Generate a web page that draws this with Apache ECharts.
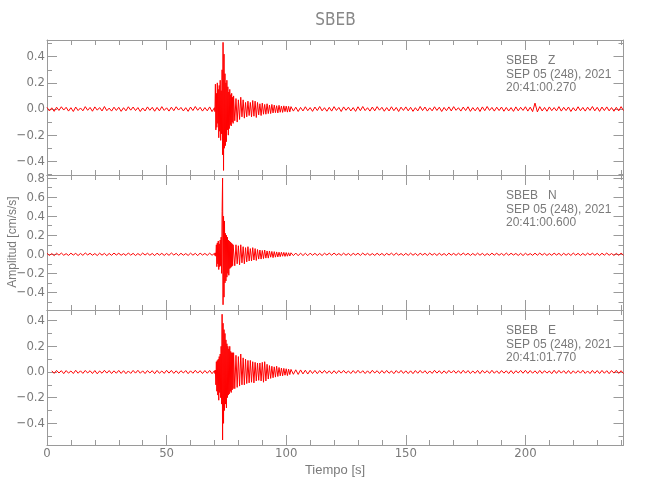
<!DOCTYPE html>
<html><head><meta charset="utf-8">
<script src="https://cdn.jsdelivr.net/npm/echarts@6/dist/echarts.min.js"></script>
<style>html,body{margin:0;padding:0;background:#fff}#c{width:650px;height:500px}</style>
</head><body><div id="c"></div>
<script>
const stationName = 'SBEB';
const components = ['Z','N','E'];
const dateLabel = 'SEP 05 (248), 2021';
const startTimes = ['20:41:00.270','20:41:00.600','20:41:01.770'];
const xAxisTitle = 'Tiempo [s]';
const yAxisTitle = 'Amplitud [cm/s/s]';
const xMajorTicks = [0,50,100,150,200];
const xMinorTicks = [10,20,30,40,60,70,80,90,110,120,130,140,160,170,180,190,210,220,230,240];
const yRanges = [[-0.505,0.528],[-0.585,0.833],[-0.569,0.483]];
const yMajorTicks = [[-0.4,-0.2,0,0.2,0.4],[-0.4,-0.2,0,0.2,0.4,0.6,0.8],[-0.4,-0.2,0,0.2,0.4]];
const yMinorTicks = [[-0.5,-0.3,-0.1,0.1,0.3,0.5],[-0.5,-0.3,-0.1,0.1,0.3,0.5,0.7],[-0.5,-0.3,-0.1,0.1,0.3]];

// Z component: pre-event (t=0..69, 1 s), main (70..77.8, 0.2 s), coda (78..101.5, 0.5 s), post (102..241, 1 s)
const zPre = [.012,-.015,.009,-.018,.014,-.011,.017,-.008,.013,-.016,
 .010,-.019,.015,-.012,.008,-.014,.018,-.010,.012,-.017,
 .016,-.009,.011,-.015,.019,-.013,.007,-.016,.014,-.011,
 .013,-.018,.010,-.014,.017,-.009,.015,-.012,.011,-.019,
 .008,-.015,.016,-.010,.013,-.017,.012,-.014,.018,-.011,
 .009,-.016,.014,-.013,.017,-.008,.012,-.015,.010,-.018,
 .015,-.012,.019,-.010,.013,-.016,.011,-.014,.016,-.020];
const zMain = [.01,-.02,.19,-.16,.12,-.14,.20,-.11,.15,-.22,
 .18,-.17,.22,-.24,.14,-.19,.30,-.35,.51,-.47,
 .42,-.30,.27,-.28,.20,-.25,.22,-.16,.17,-.20,
 .13,-.15,.15,-.12,.11,-.13,.12,-.10,.09,-.11];
const zCoda = [.10,-.09,.08,-.10,.07,-.08,.09,-.06,.07,-.07,
 .05,-.06,.06,-.05,.05,-.06,.065,-.055,.06,-.065,
 .05,-.045,.04,-.05,.045,-.04,.035,-.04,.04,-.035,
 .03,-.035,.035,-.03,.03,-.028,.025,-.03,.028,-.025,
 .022,-.026,.024,-.02,.022,-.024,.02,-.022];
const zPost = [.018,-.016,.014,-.019,.012,-.015,.017,-.013,.011,-.018,
 .015,-.012,.019,-.014,.010,-.017,.013,-.016,.018,-.011,
 .012,-.019,.016,-.010,.014,-.015,.011,-.018,.017,-.013,
 .019,-.012,.010,-.016,.015,-.014,.018,-.009,.013,-.017,
 .011,-.015,.017,-.013,.012,-.019,.014,-.011,.016,-.014,
 .013,-.018,.010,-.015,.019,-.012,.015,-.016,.009,-.014,
 .017,-.011,.014,-.019,.012,-.013,.016,-.015,.018,-.010,
 .010,-.016,.015,-.012,.017,-.018,.011,-.014,.013,-.019,
 .016,-.013,.019,-.011,.012,-.016,.014,-.012,.015,-.017,
 .012,-.015,.011,-.018,.016,-.014,.013,-.011,.017,-.016,
 .014,-.020,.045,-.022,.018,-.015,.012,-.017,.016,-.013,
 .011,-.014,.018,-.016,.013,-.012,.015,-.019,.010,-.015,
 .017,-.013,.012,-.016,.014,-.011,.019,-.014,.013,-.018,
 .015,-.012,.016,-.014,.011,-.017,.013,-.015,.018,-.012];

// N component
const nPre = [.010,-.012,.008,-.014,.011,-.009,.013,-.010,.007,-.012,
 .012,-.008,.010,-.013,.009,-.011,.014,-.007,.011,-.010,
 .008,-.013,.012,-.009,.010,-.014,.009,-.011,.013,-.008,
 .011,-.010,.007,-.012,.014,-.009,.010,-.013,.008,-.011,
 .013,-.008,.011,-.010,.009,-.014,.012,-.009,.010,-.012,
 .009,-.011,.014,-.008,.010,-.013,.011,-.010,.008,-.012,
 .012,-.009,.010,-.014,.013,-.008,.009,-.011,.012,-.010];
const nMain = [.010,-.012,.015,-.020,.10,-.13,.12,-.10,.14,-.16,
 .11,-.13,.15,-.12,.18,-.20,.45,.80,-.53,.40,
 -.45,.35,-.30,.22,-.28,.20,-.24,.18,-.20,.15,
 -.22,.14,-.15,.13,-.14,.12,-.13,.11,-.12,.10];
const nCoda = [.11,-.12,.10,-.10,.09,-.11,.10,-.09,.08,-.10,
 .07,-.08,.08,-.07,.06,-.07,.07,-.06,.06,-.065,
 .05,-.05,.045,-.05,.04,-.045,.045,-.04,.035,-.04,
 .035,-.03,.03,-.035,.028,-.03,.025,-.028,.022,-.025,
 .022,-.02,.02,-.022,.018,-.02,.016,-.018];
const nPost = [.016,-.014,.013,-.015,.012,-.013,.011,-.014,.012,-.010,
 .010,-.012,.009,-.013,.011,-.008,.012,-.010,.013,-.009,
 .008,-.011,.012,-.010,.009,-.013,.010,-.008,.011,-.012,
 .013,-.009,.010,-.011,.008,-.012,.011,-.010,.009,-.013,
 .010,-.008,.012,-.011,.013,-.009,.008,-.012,.010,-.011,
 .012,-.010,.009,-.013,.011,-.008,.010,-.012,.013,-.009,
 .009,-.012,.011,-.010,.008,-.013,.012,-.009,.010,-.011,
 .011,-.009,.013,-.008,.010,-.012,.009,-.011,.012,-.010,
 .010,-.013,.008,-.011,.012,-.009,.011,-.010,.009,-.012,
 .013,-.010,.011,-.008,.009,-.012,.010,-.013,.011,-.009,
 .008,-.011,.012,-.010,.013,-.009,.010,-.012,.008,-.011,
 .012,-.008,.010,-.013,.011,-.010,.009,-.012,.013,-.009,
 .010,-.012,.009,-.011,.012,-.008,.011,-.010,.010,-.013,
 .011,-.009,.013,-.010,.008,-.012,.010,-.011,.012,-.010];

// E component (pre-event starts at t=2)
const ePre = [.009,-.011,.012,-.008,.010,-.013,.011,-.009,.008,-.012,
 .013,-.010,.009,-.011,.012,-.008,.010,-.012,.011,-.014,
 .008,-.010,.013,-.009,.011,-.012,.009,-.010,.012,-.011,
 .010,-.013,.008,-.011,.012,-.009,.013,-.010,.009,-.012,
 .011,-.008,.010,-.013,.012,-.010,.008,-.011,.013,-.009,
 .012,-.011,.009,-.012,.010,-.008,.011,-.013,.009,-.010,
 .013,-.009,.010,-.012,.011,-.010,.012,-.013];
const eMain = [.010,-.012,.015,-.10,.08,-.15,.09,-.18,.10,-.22,
 .12,-.16,.14,-.20,.20,-.25,.45,-.53,.38,-.40,
 .33,-.30,.30,-.25,.25,-.28,.22,-.20,.20,-.18,
 .18,-.17,.20,-.15,.16,-.16,.15,-.14,.15,-.13];
const eCoda = [.15,-.13,.13,-.12,.12,-.11,.14,-.10,.11,-.10,
 .10,-.09,.09,-.085,.09,-.08,.08,-.085,.075,-.07,
 .07,-.065,.07,-.07,.075,-.08,.08,-.07,.06,-.055,
 .05,-.05,.045,-.045,.04,-.04,.045,-.035,.035,-.03,
 .03,-.03,.028,-.025,.025,-.028,.022,-.02];
const ePost = [.020,-.018,.017,-.019,.016,-.015,.014,-.016,.013,-.012,
 .012,-.013,.011,-.010,.012,-.011,.009,-.013,.010,-.012,
 .011,-.009,.012,-.010,.008,-.012,.011,-.010,.013,-.009,
 .010,-.012,.009,-.011,.013,-.008,.010,-.012,.011,-.010,
 .012,-.010,.008,-.013,.011,-.009,.012,-.011,.009,-.012,
 .009,-.013,.011,-.010,.012,-.009,.010,-.013,.008,-.011,
 .013,-.009,.010,-.012,.009,-.011,.012,-.008,.011,-.010,
 .010,-.011,.013,-.009,.011,-.012,.008,-.010,.012,-.013,
 .012,-.008,.010,-.011,.013,-.010,.009,-.012,.011,-.009,
 .009,-.012,.011,-.013,.010,-.008,.012,-.010,.013,-.011,
 .011,-.010,.009,-.012,.012,-.011,.010,-.009,.008,-.013,
 .013,-.011,.012,-.009,.010,-.012,.011,-.013,.009,-.010,
 .010,-.009,.013,-.011,.008,-.012,.012,-.010,.011,-.012,
 .012,-.010,.010,-.013,.011,-.009,.013,-.011,.010,-.012];

// sampling grid of each segment: [start time, sample step]
const segGrid = [[0,1],[70,0.2],[78,0.5],[102,1]];
const traces = [
  [zPre, zMain, zCoda, zPost],
  [nPre, nMain, nCoda, nPost],
  [ePre, eMain, eCoda, ePost]
];
const preStart = [0, 0, 2];

function buildTrace(i){
  const out = [];
  traces[i].forEach((vals, s) => {
    const t0 = s === 0 ? preStart[i] : segGrid[s][0];
    const dt = segGrid[s][1];
    vals.forEach((v, k) => out.push([+(t0 + k*dt).toFixed(3), v]));
  });
  return out;
}

const AX = '#9a9a9a';
const TXT = '#7a7a7a';
const NARROW = '"Liberation Sans Narrow","DejaVu Sans Condensed","Liberation Sans",sans-serif';
const SANS = '"Liberation Sans","DejaVu Sans",sans-serif';
const L = 47, R = 26.5, TOPS = [40,175,310], H = 135;

const grid = [], xAxis = [], yAxis = [], series = [], graphic = [];
const fmtY = v => (v < 0 ? '\u2212' : '') + Math.abs(v).toFixed(1);

for (let i = 0; i < 3; i++){
  grid.push({left:L, right:R, top:TOPS[i], height:H, containLabel:false});
  ['bottom','top'].forEach(pos => {
    xAxis.push({gridIndex:i, type:'value', min:0, max:241, position:pos,
      axisLine:{show:true, onZero:false, lineStyle:{color:AX, width:1}},
      axisTick:{show:true, inside:true, length:10, customValues:xMajorTicks, lineStyle:{color:AX}},
      axisLabel:{show: i===2 && pos==='bottom', customValues:xMajorTicks, margin:2, color:TXT, fontSize:13, fontFamily:NARROW},
      splitLine:{show:false}});
    xAxis.push({gridIndex:i, type:'value', min:0, max:241, position:pos,
      axisLine:{show:false, onZero:false},
      axisTick:{show:true, inside:true, length:5, customValues:xMinorTicks, lineStyle:{color:AX}},
      axisLabel:{show:false}, splitLine:{show:false}});
  });
  ['left','right'].forEach(pos => {
    yAxis.push({gridIndex:i, type:'value', min:yRanges[i][0], max:yRanges[i][1], position:pos,
      axisLine:{show:true, onZero:false, lineStyle:{color:AX, width:1}},
      axisTick:{show:true, inside:true, length:10, customValues:yMajorTicks[i], lineStyle:{color:AX}},
      axisLabel:{show: pos==='left', customValues:yMajorTicks[i], formatter:fmtY, margin:2, color:TXT, fontSize:13, fontFamily:NARROW},
      splitLine:{show:false}});
    yAxis.push({gridIndex:i, type:'value', min:yRanges[i][0], max:yRanges[i][1], position:pos,
      axisLine:{show:false, onZero:false},
      axisTick:{show:true, inside:true, length:5, customValues:yMinorTicks[i], lineStyle:{color:AX}},
      axisLabel:{show:false}, splitLine:{show:false}});
  });
  series.push({type:'line', xAxisIndex:i*4, yAxisIndex:i*4, data:buildTrace(i),
    showSymbol:false, symbol:'none', sampling:null, lineStyle:{color:'#ff0000', width:1}, animation:false, silent:true});
  const lines = [stationName + '   ' + components[i], dateLabel, startTimes[i]];
  lines.forEach((t, k) => graphic.push({type:'text', left:506, top:TOPS[i] + 15 + k*13.5,
    style:{text:t, fill:TXT, font:'12px ' + SANS}}));
}

graphic.push({type:'text', x:335.5, y:21, style:{text:stationName, fill:'#888', font:'17px ' + NARROW, align:'center', verticalAlign:'middle', textAlign:'center', textVerticalAlign:'middle'}});
graphic.push({type:'text', x:335, y:470, style:{text:xAxisTitle, fill:TXT, font:'13px ' + SANS, align:'center', verticalAlign:'middle', textAlign:'center', textVerticalAlign:'middle'}});
graphic.push({type:'text', x:12.5, y:242, rotation:Math.PI/2, style:{text:yAxisTitle, fill:TXT, font:'12px ' + SANS, align:'center', verticalAlign:'middle', textAlign:'center', textVerticalAlign:'middle'}});

const chart = echarts.init(document.getElementById('c'), null, {renderer:'canvas'});
chart.setOption({animation:false, backgroundColor:'#fff', grid, xAxis, yAxis, series, graphic});
</script></body></html>
